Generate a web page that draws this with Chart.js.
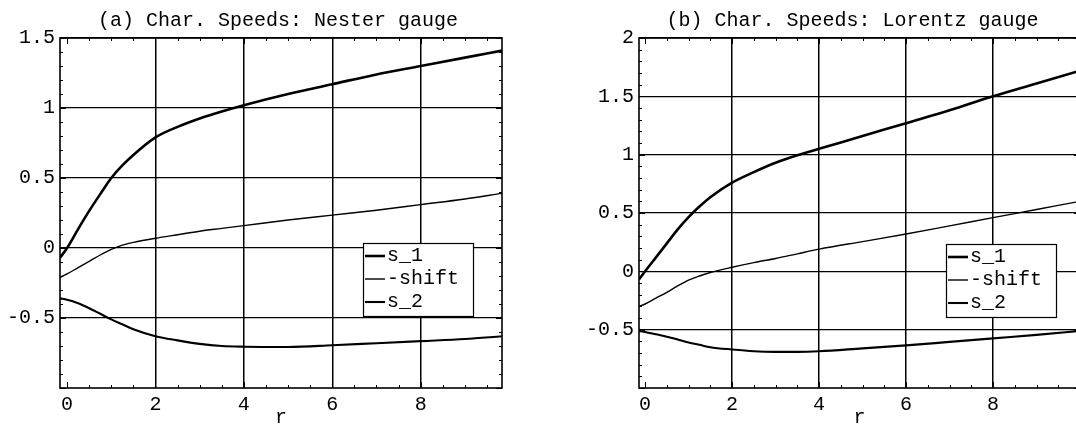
<!DOCTYPE html>
<html><head><meta charset="utf-8">
<script src="https://cdn.jsdelivr.net/npm/chart.js@4"></script>
<style>
html,body{margin:0;padding:0;background:#fff;overflow:hidden;width:1076px;height:428px;position:relative;}
#wa{position:absolute;left:0;top:0;width:557px;height:428px;}
#wb{position:absolute;left:580px;top:0;width:546px;height:428px;}
canvas{display:block;}
</style></head><body>
<div id="wa"><canvas id="ca" width="557" height="428"></canvas></div>
<div id="wb"><canvas id="cb" width="546" height="428"></canvas></div>
<script>
// ---- data (a) Nester gauge ----
const rA     = [-0.16, 0, 0.25, 0.5, 0.75, 1, 1.25, 1.5, 2, 2.5, 3, 3.5, 4, 5, 6, 7, 8, 9, 9.84];
const s1A    = [-0.07, 0.0, 0.135, 0.265, 0.385, 0.5, 0.59, 0.665, 0.79, 0.865, 0.925, 0.975, 1.02, 1.10, 1.17, 1.24, 1.30, 1.36, 1.41];
const shiftA = [-0.21, -0.185, -0.14, -0.095, -0.05, -0.01, 0.02, 0.04, 0.07, 0.095, 0.12, 0.14, 0.16, 0.20, 0.235, 0.27, 0.31, 0.35, 0.39];
const s2A    = [-0.36, -0.37, -0.395, -0.43, -0.47, -0.51, -0.545, -0.58, -0.63, -0.66, -0.685, -0.70, -0.705, -0.707, -0.695, -0.68, -0.665, -0.65, -0.63];
// ---- data (b) Lorentz gauge ----
const rB     = [-0.14, 0, 0.25, 0.5, 0.75, 1, 1.25, 1.5, 2, 2.5, 3, 3.5, 4, 5, 6, 7, 8, 9, 10];
const s1B    = [-0.07, 0.0, 0.12, 0.24, 0.36, 0.465, 0.555, 0.635, 0.76, 0.85, 0.93, 0.995, 1.05, 1.16, 1.27, 1.38, 1.50, 1.61, 1.72];
const shiftB = [-0.30, -0.28, -0.23, -0.18, -0.125, -0.075, -0.04, -0.01, 0.035, 0.075, 0.11, 0.15, 0.19, 0.255, 0.32, 0.39, 0.46, 0.53, 0.60];
const s2B    = [-0.51, -0.52, -0.54, -0.56, -0.585, -0.61, -0.63, -0.65, -0.67, -0.685, -0.69, -0.69, -0.685, -0.66, -0.635, -0.605, -0.575, -0.545, -0.51];
// ---- ticks / labels ----
const xTicks  = [0, 2, 4, 6, 8];
const yTicksA = [-0.5, 0, 0.5, 1, 1.5];
const yTicksB = [-0.5, 0, 0.5, 1, 1.5, 2];
const seriesLabels = ['s_1', '-shift', 's_2'];
const titleA = '(a) Char. Speeds: Nester gauge';
const titleB = '(b) Char. Speeds: Lorentz gauge';
const xTitle = 'r';

const FONT = "'Liberation Mono', 'DejaVu Sans Mono', monospace";
Chart.defaults.font.family = FONT;
Chart.defaults.color = '#000';

function pts(xs, ys){ return xs.map((x,i)=>({x:x, y:ys[i]})); }

const framePlugin = {
  id: 'frame',
  afterDatasetsDraw(chart){
    const {ctx, chartArea:a, scales} = chart;
    const xs = scales.x, ys = scales.y;
    ctx.save();
    ctx.strokeStyle = '#000';
    ctx.lineWidth = 1;
    const xmin = xs.min, xmax = xs.max, ymin = ys.min, ymax = ys.max;
    ctx.beginPath();
    for (let k = Math.ceil(xmin*2); k/2 <= xmax; k++){
      const v = k/2; const major = (k % 4 === 0);
      const L = major ? 6 : 3;
      const px = Math.round(xs.getPixelForValue(v)) + 0.5;
      ctx.moveTo(px, a.bottom); ctx.lineTo(px, a.bottom - L);
      ctx.moveTo(px, a.top); ctx.lineTo(px, a.top + L);
    }
    for (let k = Math.ceil(ymin*10); k/10 <= ymax + 1e-9; k++){
      const v = k/10; const major = (k % 5 === 0);
      const L = major ? 6 : 3;
      const py = Math.round(ys.getPixelForValue(v)) + 0.5;
      ctx.moveTo(a.left, py); ctx.lineTo(a.left + L, py);
      ctx.moveTo(a.right, py); ctx.lineTo(a.right - L, py);
    }
    ctx.stroke();
    ctx.lineWidth = 1.6;
    ctx.strokeRect(a.left, a.top, a.right - a.left, a.bottom - a.top);
    ctx.restore();
  }
};

const boxLegendPlugin = {
  id: 'boxLegend',
  afterDraw(chart, args, o){
    const ctx = chart.ctx;
    ctx.save();
    ctx.fillStyle = '#fff';
    ctx.fillRect(o.x, o.y, o.w, o.h);
    ctx.strokeStyle = '#000';
    ctx.lineWidth = 1.2;
    ctx.strokeRect(o.x + 0.5, o.y + 0.5, o.w, o.h);
    ctx.font = "20px " + FONT;
    ctx.textBaseline = 'middle';
    ctx.textAlign = 'left';
    ctx.fillStyle = '#000';
    chart.data.datasets.forEach((ds, i) => {
      const cy = o.y + o.rowTop + i * o.rowH;
      ctx.lineWidth = ds.borderWidth;
      ctx.beginPath();
      ctx.moveTo(o.x + 2, cy); ctx.lineTo(o.x + 22, cy);
      ctx.stroke();
      ctx.fillText(ds.label, o.x + 24, cy);
    });
    ctx.restore();
  }
};

function makeChart(id, r, s1, sh, s2, cfg){
  return new Chart(document.getElementById(id), {
    type: 'line',
    data: {
      datasets: [
        {label: seriesLabels[0], data: pts(r, s1), borderColor:'#000', borderWidth: 2.6},
        {label: seriesLabels[1], data: pts(r, sh), borderColor:'#000', borderWidth: 1.4},
        {label: seriesLabels[2], data: pts(r, s2), borderColor:'#000', borderWidth: 2.1}
      ]
    },
    options: {
      responsive: false,
      animation: false,
      layout: {padding: {left: 0, right: cfg.padRight, top: 0, bottom: 0}},
      elements: {point: {radius: 0}, line: {cubicInterpolationMode: 'monotone'}},
      plugins: {
        legend: {display: false},
        tooltip: {enabled: false},
        title: {display: true, text: cfg.title, color:'#000',
                font: {family: FONT, size: 20, weight: 'normal', lineHeight: 1.2},
                padding: {top: 9, bottom: 5}},
        boxLegend: cfg.legend
      },
      scales: {
        x: {
          type: 'linear', min: cfg.xMin, max: cfg.xMax,
          afterBuildTicks: s => { s.ticks = xTicks.map(v => ({value: v})); },
          afterFit: s => { s.height = 40; },
          ticks: {color:'#000', font: {family: FONT, size: 20}, padding: 5, maxRotation: 0, autoSkip: false,
                  callback: v => String(v)},
          grid: {color: c => (c.tick && c.tick.value === 0) ? 'rgba(0,0,0,0)' : '#000', lineWidth: 1.5, drawTicks: false},
          border: {display: false},
          title: {display: true, text: xTitle, color:'#000', font: {family: FONT, size: 20, lineHeight: 1}, padding: {top: 0, bottom: 0}}
        },
        y: {
          type: 'linear', min: cfg.yMin, max: cfg.yMax,
          afterBuildTicks: s => { s.ticks = cfg.yTicks.map(v => ({value: v})); },
          afterFit: s => { s.width = cfg.yW; },
          ticks: {color:'#000', font: {family: FONT, size: 20}, padding: 5, autoSkip: false,
                  callback: v => String(v)},
          grid: {color: '#000', lineWidth: 1.2, drawTicks: false},
          border: {display: false}
        },
        yPad: {
          type: 'linear', position: 'right', min: cfg.yMin, max: cfg.yMax,
          afterFit: s => { s.width = cfg.rightW; },
          ticks: {display: false},
          grid: {display: false, drawOnChartArea: false},
          border: {display: false}
        }
      }
    },
    plugins: [framePlugin, boxLegendPlugin]
  });
}

makeChart('ca', rA, s1A, shiftA, s2A, {
  title: titleA, xMin: -0.16, xMax: 9.84, yMin: -1, yMax: 1.5, yTicks: yTicksA,
  yW: 60, rightW: 54, padRight: 1,
  legend: {x: 363, y: 243, w: 110, h: 73, rowTop: 13, rowH: 23}
});
makeChart('cb', rB, s1B, shiftB, s2B, {
  title: titleB, xMin: -0.14, xMax: 10.0, yMin: -1, yMax: 2, yTicks: yTicksB,
  yW: 59, rightW: 45, padRight: 1,
  legend: {x: 366, y: 244, w: 110, h: 73, rowTop: 13, rowH: 23}
});
</script>
</body></html>
